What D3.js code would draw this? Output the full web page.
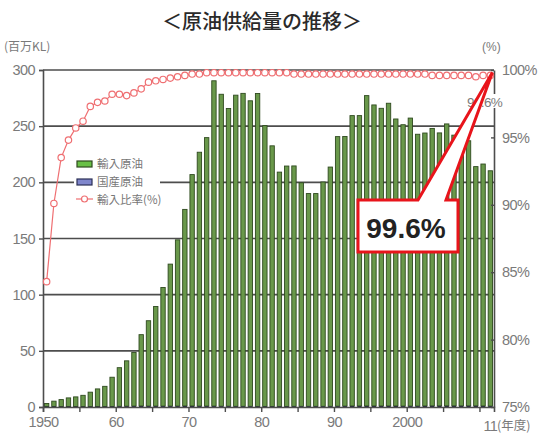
<!DOCTYPE html>
<html>
<head>
<meta charset="utf-8">
<script src="https://cdn.jsdelivr.net/npm/d3@7/dist/d3.min.js"></script>
<style>
  html, body { margin: 0; padding: 0; background: #fff; }
  svg { display: block; }
  text { font-family: "Liberation Sans", Arial, sans-serif; }
  .jp { font-family: "Noto Sans CJK JP", "Noto Sans", sans-serif; }
</style>
</head>
<body>
<svg id="chart" width="538" height="436"></svg>
<script>
// Fiscal years 1950–2011
const years = d3.range(1950, 2012);

// Imported crude oil (million kL)
const imported = [
  2.7, 4.7, 6.2, 7.7, 8.6, 10.0, 12.8, 15.7, 18.0, 26.0,
  34.4, 40.4, 47.8, 63.5, 76.0, 88.7, 105.6, 126.4, 148.0, 175.0,
  206.0, 226.0, 239.0, 289.6, 277.7, 265.0, 277.0, 278.6, 272.0, 278.6,
  250.0, 232.0, 208.6, 214.0, 214.0, 199.0, 189.4, 189.4, 199.7, 213.0,
  240.0, 240.0, 258.5, 258.5, 276.3, 268.0, 265.0, 269.5, 255.5, 250.5,
  256.4, 242.0, 243.0, 247.0, 243.0, 251.0, 241.0, 236.0, 236.0, 213.0,
  215.4, 209.5
];

// Domestic crude oil (million kL)
const domestic = [
  0.4, 0.5, 0.4, 0.4, 0.4, 0.4, 0.4, 0.4, 0.4, 0.5,
  0.6, 0.7, 0.8, 0.9, 0.8, 0.8, 0.8, 0.8, 0.8, 0.9,
  0.9, 0.8, 0.8, 0.8, 0.7, 0.7, 0.6, 0.6, 0.6, 0.5,
  0.5, 0.5, 0.5, 0.5, 0.6, 0.6, 0.6, 0.6, 0.6, 0.6,
  0.7, 0.8, 0.9, 0.9, 0.9, 0.9, 0.9, 0.9, 0.9, 0.8,
  0.8, 0.8, 0.9, 1.0, 1.0, 1.0, 1.0, 1.0, 1.0, 1.0,
  0.9, 0.8
];

// Import share (%)
const ratio = [
  84.3, 90.1, 93.5, 94.8, 95.7, 96.2, 97.3, 97.6, 97.7, 98.2,
  98.2, 98.1, 98.3, 98.6, 99.1, 99.2, 99.3, 99.4, 99.5, 99.6,
  99.7, 99.7, 99.8, 99.8, 99.8, 99.8, 99.8, 99.8, 99.8, 99.8,
  99.8, 99.8, 99.8, 99.8, 99.7, 99.7, 99.7, 99.7, 99.7, 99.7,
  99.7, 99.7, 99.7, 99.7, 99.7, 99.7, 99.7, 99.7, 99.7, 99.7,
  99.7, 99.7, 99.7, 99.6, 99.6, 99.6, 99.6, 99.6, 99.6, 99.5,
  99.6, 99.6
];

const leftTicks = [0, 50, 100, 150, 200, 250, 300];
const rightTicks = [75, 80, 85, 90, 95, 100];
const xTickYears = d3.range(1950, 2011, 5);
const xLabels = { 1950: "1950", 1960: "60", 1970: "70", 1980: "80", 1990: "90", 2000: "2000" };
const legendItems = ["輸入原油", "国産原油", "輸入比率(%)"];
const calloutText = "99.6%";

const svg = d3.select("#chart");
const plotL = 43, plotR = 494, plotT = 70, plotB = 407;

const x = d3.scaleBand().domain(years).range([plotL, plotR]).paddingInner(0.4).paddingOuter(0.2);
const xYear = d3.scaleLinear().domain([1950, 2012]).range([plotL, plotR]);
const y = d3.scaleLinear().domain([0, 300]).range([plotB, plotT]);
const yr = d3.scaleLinear().domain([75, 100]).range([plotB, plotT]);

const gridColor = "#4d4d4d";
const labelColor = "#7a7a7a";

// Title and unit labels
svg.append("text").attr("class", "jp").attr("x", 262).attr("y", 29)
  .attr("text-anchor", "middle").attr("font-size", 20).attr("font-weight", 500)
  .attr("fill", "#2a2a2a").text("＜原油供給量の推移＞");
svg.append("text").attr("class", "jp").attr("x", 4).attr("y", 51)
  .attr("font-size", 12).attr("fill", labelColor).text("(百万KL)");
svg.append("text").attr("x", 482).attr("y", 51)
  .attr("font-size", 12).attr("fill", labelColor).text("(%)");

// Horizontal gridlines
svg.append("g").selectAll("line").data(leftTicks.filter(d => d > 0)).join("line")
  .attr("x1", plotL).attr("x2", plotR)
  .attr("y1", d => y(d)).attr("y2", d => y(d))
  .attr("stroke", gridColor).attr("stroke-width", 1.6);

// Stacked bars: imported on top of domestic
const barW = x.bandwidth();
const bars = svg.append("g");
years.forEach((yy, i) => {
  const bx = x(yy);
  bars.append("rect")
    .attr("x", bx).attr("width", barW)
    .attr("y", y(domestic[i] + imported[i])).attr("height", y(domestic[i]) - y(domestic[i] + imported[i]))
    .attr("fill", "#69984a").attr("stroke", "#2f4a1f").attr("stroke-width", 0.9);
  bars.append("rect")
    .attr("x", bx).attr("width", barW)
    .attr("y", y(domestic[i])).attr("height", y(0) - y(domestic[i]))
    .attr("fill", "#232a3a");
});

// Left axis
const axL = svg.append("g").attr("transform", `translate(${plotL},0)`)
  .call(d3.axisLeft(y).tickValues(leftTicks).tickSize(4).tickPadding(4));
axL.select(".domain").attr("stroke", gridColor).attr("stroke-width", 1.6);
axL.selectAll(".tick line").attr("stroke", gridColor).attr("stroke-width", 1.4);
axL.selectAll(".tick text").attr("font-size", 14.5).attr("fill", labelColor)
  .attr("font-family", "Liberation Sans, Arial, sans-serif").attr("letter-spacing", -0.6);

// Right axis
const axR = svg.append("g").attr("transform", `translate(${plotR},0)`)
  .call(d3.axisRight(yr).tickValues(rightTicks).tickSizeInner(-3).tickSizeOuter(0).tickPadding(8)
    .tickFormat(d => d + "%"));
axR.select(".domain").attr("stroke", gridColor).attr("stroke-width", 1.6);
axR.selectAll(".tick line").attr("stroke", gridColor).attr("stroke-width", 1.4);
axR.selectAll(".tick text").attr("font-size", 14.5).attr("fill", labelColor)
  .attr("font-family", "Liberation Sans, Arial, sans-serif").attr("letter-spacing", -0.6);

// Bottom axis
const axB = svg.append("g").attr("transform", `translate(0,${plotB})`)
  .call(d3.axisBottom(xYear).tickValues(xTickYears).tickSize(5).tickPadding(5)
    .tickFormat(d => xLabels[d] || ""));
axB.select(".domain").attr("stroke", gridColor).attr("stroke-width", 1.6);
axB.selectAll(".tick line").attr("stroke", gridColor).attr("stroke-width", 1.4);
axB.selectAll(".tick text").attr("font-size", 14.5).attr("fill", labelColor)
  .attr("font-family", "Liberation Sans, Arial, sans-serif").attr("letter-spacing", -0.6);
svg.append("text").attr("x", x(2011) + barW / 2).attr("y", plotB + 24)
  .attr("text-anchor", "middle").attr("font-size", 14.5).attr("letter-spacing", -0.6)
  .attr("fill", labelColor).text("11");
svg.append("text").attr("class", "jp").attr("x", 497).attr("y", plotB + 23)
  .attr("font-size", 12.5).attr("fill", labelColor).text("(年度)");

// Import share line
const cx = (d, i) => x(years[i]) + barW / 2;
svg.append("path").datum(ratio)
  .attr("d", d3.line().x(cx).y(d => yr(d)))
  .attr("fill", "none").attr("stroke", "#ef6f72").attr("stroke-width", 1.2);
svg.append("g").selectAll("circle").data(ratio).join("circle")
  .attr("cx", cx).attr("cy", d => yr(d)).attr("r", 3.2)
  .attr("fill", "#fff").attr("stroke", "#ef6f72").attr("stroke-width", 1.2);

// Last-point data label
const lastVal = ratio[ratio.length - 1];
svg.append("rect").attr("x", 468).attr("y", 94).attr("width", 40).attr("height", 14).attr("fill", "#fff");
svg.append("text").attr("x", 467).attr("y", 107).attr("font-size", 13.5).attr("letter-spacing", -0.6)
  .attr("fill", labelColor).text(lastVal.toFixed(1) + "%");

// Legend
const lg = svg.append("g");
lg.append("rect").attr("x", 74).attr("y", 155).attr("width", 86).attr("height", 52).attr("fill", "#fff");
lg.append("rect").attr("x", 77).attr("y", 161).attr("width", 15).attr("height", 6)
  .attr("fill", "#69c046").attr("stroke", "#2f4a1f").attr("stroke-width", 1.2);
lg.append("rect").attr("x", 77).attr("y", 179).attr("width", 15).attr("height", 6)
  .attr("fill", "#7f86cc").attr("stroke", "#2a2f55").attr("stroke-width", 1.2);
lg.append("line").attr("x1", 76).attr("x2", 93).attr("y1", 199).attr("y2", 199)
  .attr("stroke", "#ef6f72").attr("stroke-width", 1.2);
lg.append("circle").attr("cx", 84.5).attr("cy", 199).attr("r", 3)
  .attr("fill", "#fff").attr("stroke", "#ef6f72").attr("stroke-width", 1.2);
lg.selectAll("text").data(legendItems).join("text").attr("class", "jp")
  .attr("x", 97).attr("y", (d, i) => 168 + i * 18)
  .attr("font-size", 11.5).attr("fill", "#777").text(d => d);

// Callout pointing at the last data point
const tipX = cx(lastVal, ratio.length - 1) + 2, tipY = yr(lastVal) - 3;
const box = { x0: 358, x1: 458, y0: 200, y1: 252, w0: 418, w1: 446 };
svg.append("path")
  .attr("d", `M${box.x0},${box.y0} L${box.w0},${box.y0} L${tipX},${tipY} L${box.w1},${box.y0} L${box.x1},${box.y0} L${box.x1},${box.y1} L${box.x0},${box.y1} Z`)
  .attr("fill", "#fff").attr("stroke", "#e8141b").attr("stroke-width", 3).attr("stroke-linejoin", "miter");
svg.append("text").attr("x", (box.x0 + box.x1) / 2 - 2).attr("y", 238)
  .attr("text-anchor", "middle").attr("font-size", 28).attr("font-weight", "bold")
  .attr("fill", "#222").text(calloutText);
</script>
</body>
</html>
